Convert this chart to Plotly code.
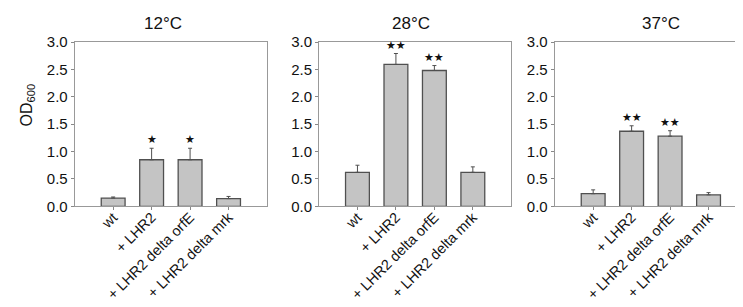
import plotly.graph_objects as go

categories = ["wt", "+ LHR2", "+ LHR2 delta orfE", "+ LHR2 delta mrk"]
panel_titles = ["12°C", "28°C", "37°C"]

od_12 = [0.15, 0.85, 0.85, 0.14]
err_12 = [0.02, 0.21, 0.21, 0.04]
stars_12 = ["", "*", "*", ""]

od_28 = [0.62, 2.59, 2.48, 0.62]
err_28 = [0.13, 0.20, 0.09, 0.10]
stars_28 = ["", "**", "**", ""]

od_37 = [0.23, 1.37, 1.28, 0.21]
err_37 = [0.07, 0.10, 0.10, 0.04]
stars_37 = ["", "**", "**", ""]

y_ticks = [0, 0.5, 1.0, 1.5, 2.0, 2.5, 3.0]

W, H = 743, 307
panels = [(od_12, err_12, stars_12), (od_28, err_28, stars_28), (od_37, err_37, stars_37)]
x_dom_px = [(66.7, 259.0), (311.0, 503.3), (546.7, 739.0)]
y_dom = [(307 - 198.3) / H, (307 - 34) / H]
title_x_px = [155, 403, 653]

FONT = "Liberation Sans, Arial, sans-serif"
fig = go.Figure()
annotations = []
for i, (vals, errs, stars) in enumerate(panels):
    n = "" if i == 0 else str(i + 1)
    fig.add_trace(go.Bar(
        x=list(range(len(categories))), y=vals,
        width=0.62,
        marker=dict(color="#c4c4c4", line=dict(color="#505050", width=1.3)),
        error_y=dict(type="data", symmetric=False, array=errs,
                     arrayminus=[0] * len(errs), color="#505050",
                     thickness=1, width=2),
        xaxis="x" + n, yaxis="y" + n, showlegend=False, hoverinfo="skip",
    ))
    d0, d1 = x_dom_px[i]
    fig.layout["xaxis" + n] = dict(
        domain=[d0 / W, d1 / W], range=[-1, 4], anchor="y" + n,
        tickmode="array", tickvals=list(range(len(categories))), ticktext=categories,
        tickangle=-45, ticks="outside", ticklen=3, tickcolor="#888",
        ticklabelstandoff=-7,
        showline=True, linecolor="#999", linewidth=1, mirror=True,
        showgrid=False, zeroline=False, automargin=False,
        tickfont=dict(family=FONT, size=14.5, color="#111"),
    )
    fig.layout["yaxis" + n] = dict(
        domain=y_dom, range=[0, 3], anchor="x" + n,
        tickmode="array", tickvals=y_ticks, tickformat=".1f",
        ticks="outside", ticklen=3, tickcolor="#888",
        showline=True, linecolor="#999", linewidth=1, mirror=True,
        showgrid=False, zeroline=False, automargin=False,
        tickfont=dict(family=FONT, size=15, color="#111"),
    )
    for j, s in enumerate(stars):
        if s:
            annotations.append(dict(
                x=j, y=vals[j] + errs[j], xref="x" + n, yref="y" + n,
                text="★" * len(s), showarrow=False, yanchor="bottom", yshift=0,
                font=dict(family="DejaVu Sans", size=11, color="#111"),
            ))
    annotations.append(dict(
        x=title_x_px[i] / W, y=(H - 15) / H, xref="paper", yref="paper",
        text=panel_titles[i], showarrow=False, xanchor="center", yanchor="middle",
        font=dict(family=FONT, size=17, color="#111"),
    ))

annotations.append(dict(
    x=18.5 / W, y=(H - 97) / H, xref="paper", yref="paper",
    text="OD<sub>600</sub>", showarrow=False, textangle=-90,
    xanchor="center", yanchor="middle",
    font=dict(family=FONT, size=16, color="#111"),
))

fig.update_layout(
    width=W, height=H, margin=dict(l=0, r=0, t=0, b=0),
    paper_bgcolor="white", plot_bgcolor="white",
    annotations=annotations, template="none",
)
fig.write_html("out.html")
